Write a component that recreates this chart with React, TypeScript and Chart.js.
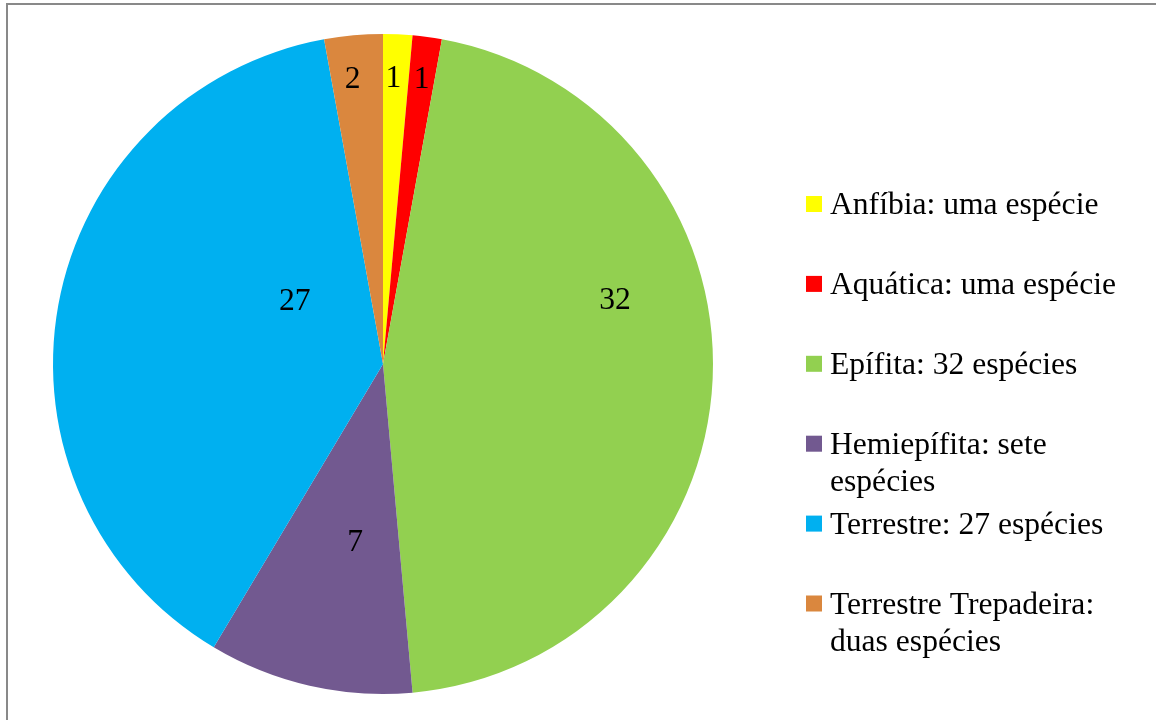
import React, { useEffect, useRef } from "react";
import { Chart, registerables } from "chart.js";

Chart.register(...registerables);

// ---- Data ----
const categories = ["Anfíbia", "Aquática", "Epífita", "Hemiepífita", "Terrestre", "Terrestre Trepadeira"];
const speciesCounts = [1, 1, 32, 7, 27, 2];
const legendLabels = [
  "Anfíbia: uma espécie",
  "Aquática: uma espécie",
  "Epífita: 32 espécies",
  "Hemiepífita: sete espécies",
  "Terrestre: 27 espécies",
  "Terrestre Trepadeira: duas espécies",
];

// ---- Styles ----
const sliceColors = ["#FFFF00", "#FF0000", "#92D050", "#725990", "#00B0F0", "#DA873E"];
// data label placement relative to each slice (fraction of radius, angle shift in degrees)
const labelRadiusFrac = [0.871, 0.874, 0.73, 0.543, 0.33, 0.872];
const labelAngleShift = [-0.5, 0, -18.2, -3.9, 25.6, -0.9];
const FONT = "31.6px 'Liberation Serif', 'Times New Roman', serif";

const customPlugin = {
  id: "customDraw",
  beforeDraw(chart: any) {
    const ctx = chart.ctx;
    ctx.save();
    ctx.fillStyle = "#ffffff";
    ctx.fillRect(0, 0, chart.width, chart.height);
    ctx.strokeStyle = "#898989";
    ctx.lineWidth = 2;
    ctx.strokeRect(7, 4, chart.width + 10, chart.height + 10);
    ctx.restore();
  },
  afterDatasetsDraw(chart: any) {
    const ctx = chart.ctx;
    const meta = chart.getDatasetMeta(0);
    ctx.save();
    ctx.font = FONT;
    ctx.fillStyle = "#000000";
    ctx.textAlign = "center";
    ctx.textBaseline = "middle";
    meta.data.forEach((arc: any, i: number) => {
      const p = arc.getProps(["x", "y", "startAngle", "endAngle", "outerRadius"], true);
      const mid = (p.startAngle + p.endAngle) / 2 + (labelAngleShift[i] * Math.PI) / 180;
      const r = p.outerRadius * labelRadiusFrac[i];
      const x = p.x + Math.cos(mid) * r;
      const y = p.y + Math.sin(mid) * r;
      ctx.fillText(String(chart.data.datasets[0].data[i]), x, y + 2);
    });
    ctx.restore();
  },
  afterDraw(chart: any) {
    const ctx = chart.ctx;
    ctx.save();
    ctx.font = FONT;
    ctx.textAlign = "left";
    ctx.textBaseline = "alphabetic";
    const markerX = 806;
    const textX = 830;
    const firstBaseline = 214;
    const step = 79.9;
    const lineH = 37.5;
    const maxW = 305;
    legendLabels.forEach((label, i) => {
      const base = firstBaseline + step * i;
      ctx.fillStyle = sliceColors[i];
      ctx.fillRect(markerX, base - 18, 16, 16);
      // wrap
      const words = label.split(" ");
      const lines: string[] = [];
      let cur = "";
      words.forEach((w) => {
        const test = cur ? cur + " " + w : w;
        if (ctx.measureText(test).width > maxW && cur) {
          lines.push(cur);
          cur = w;
        } else cur = test;
      });
      if (cur) lines.push(cur);
      ctx.fillStyle = "#000000";
      lines.forEach((ln, j) => ctx.fillText(ln, textX, base + j * lineH));
    });
    ctx.restore();
  },
};

export default function App() {
  const ref = useRef<HTMLCanvasElement | null>(null);
  useEffect(() => {
    if (!ref.current) return;
    const chart = new Chart(ref.current, {
      type: "pie",
      data: {
        labels: categories,
        datasets: [
          {
            data: speciesCounts,
            backgroundColor: sliceColors,
            borderWidth: 0,
          },
        ],
      },
      options: {
        responsive: false,
        animation: false,
        devicePixelRatio: 1,
        layout: { padding: { left: 53, top: 34, right: 443, bottom: 26 } },
        plugins: {
          legend: { display: false },
          tooltip: { enabled: false },
        },
      },
      plugins: [customPlugin],
    });
    return () => chart.destroy();
  }, []);
  return (
    <div style={{ position: "fixed", left: 0, top: 0, width: 1156, height: 720, background: "#fff" }}>
      <canvas ref={ref} width={1156} height={720} style={{ display: "block" }} />
    </div>
  );
}
